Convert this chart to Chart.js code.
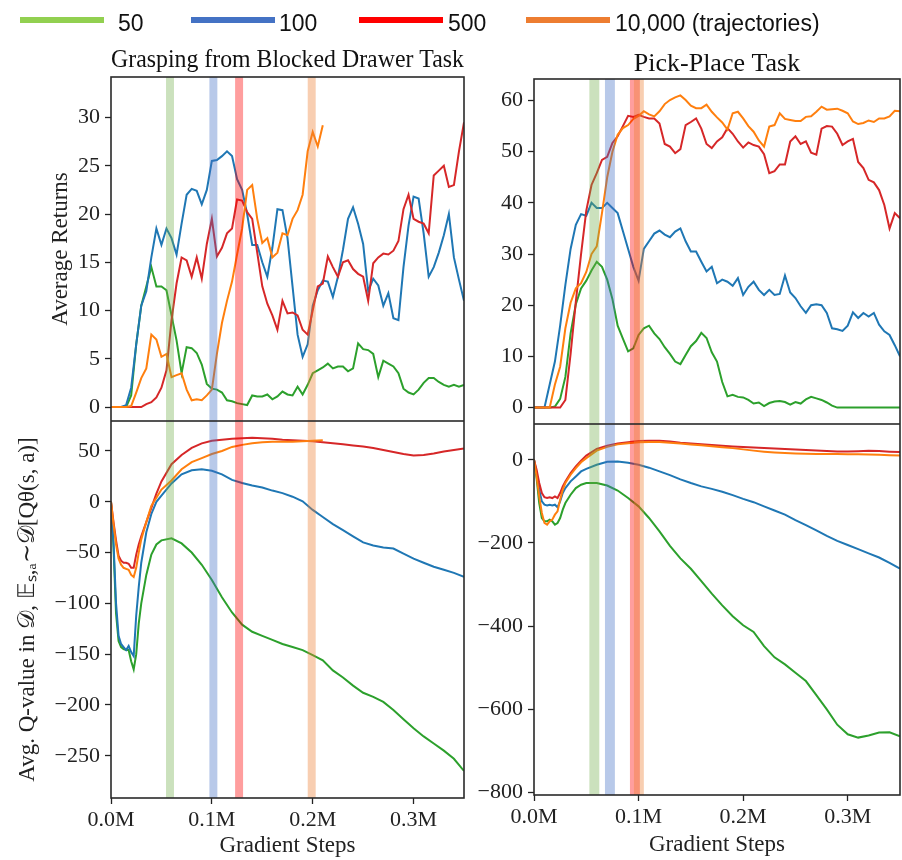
<!DOCTYPE html>
<html>
<head>
<meta charset="utf-8">
<script src="https://cdn.jsdelivr.net/npm/chart.js@4.4.1/dist/chart.umd.min.js"></script>
<style>
  body { margin: 0; background: #fff; }
  #page { position: relative; width: 902px; height: 860px; overflow: hidden; background: #fff; }
  #page canvas { position: absolute; }
  .keyLine { position: absolute; top: 17px; width: 84px; height: 6px; }
  .keyText { position: absolute; top: 12px; font: 23px/23px "Liberation Sans", Arial, sans-serif; color: #111; white-space: nowrap; }
</style>
</head>
<body>
<div id="page">
  <canvas id="drawerReturns" width="466" height="401" style="left:0;top:20px"></canvas>
  <canvas id="drawerQ" width="466" height="439" style="left:0;top:421px"></canvas>
  <canvas id="pickReturns" width="436" height="404" style="left:466px;top:20px"></canvas>
  <canvas id="pickQ" width="436" height="436" style="left:466px;top:424px"></canvas>
  <div id="legend"></div>
</div>
<script>
// series: 50, 100, 500, 10,000 trajectories
const seriesLabels = ['50', '100', '500', '10,000 (trajectories)'];
const lineColors = ['#2ca02c', '#1f77b4', '#d62728', '#ff7f0e'];
const legendColors = ['#92d050', '#4472c4', '#ff0000', '#ed7d31'];
const bandColors = ['rgba(112,173,71,0.36)', 'rgba(68,114,196,0.38)', 'rgba(255,0,0,0.38)', 'rgba(237,125,49,0.38)'];

// gradient steps, in thousands
const returnSteps = [0, 5, 10, 15, 20, 25, 30, 35, 40, 45, 50, 55, 60, 65, 70, 75, 80, 85, 90, 95,
  100, 105, 110, 115, 120, 125, 130, 135, 140, 145, 150, 155, 160, 165, 170, 175, 180, 185, 190, 195,
  200, 205, 210, 215, 220, 225, 230, 235, 240, 245, 250, 255, 260, 265, 270, 275, 280, 285, 290, 295,
  300, 305, 310, 315, 320, 325, 330, 335, 340, 345, 350];
const qSteps = [0, 2.5, 5, 7.5, 10, 12.5, 15, 17.5, 20, 22.5, 25, 27.5, 30, 35, 40, 45, 50,
  60, 70, 80, 90, 100, 110, 120, 130, 140, 150, 160, 170, 180, 190, 200, 210, 220, 230, 240,
  250, 260, 270, 280, 290, 300, 310, 320, 330, 340, 350];
const xTicks = [0, 100, 200, 300];

// Grasping from Blocked Drawer Task - average returns
const drawerRet50 = [0, 0, 0, 0, 1.2, 6.5, 10.5, 12.5, 14.5, 12.5, 12.5, 12.1, 9.5, 6.9, 3.5, 6.2, 6.1, 5.6, 4.4, 2.4,
  1.9, 1.8, 1.5, 0.7, 0.6, 0.4, 0.3, 0.2, 1.2, 1.1, 1.1, 1.3, 0.8, 1.1, 1.6, 1.3, 1.2, 2.1, 1.3, 2.3,
  3.5, 3.8, 4.1, 4.5, 4, 4.2, 4.2, 3.7, 4, 6.6, 6, 5.9, 5.5, 3.1, 4.8, 4.5, 4.2, 3.5, 1.9, 1.5,
  1.3, 1.8, 2.5, 3, 3, 2.6, 2.3, 2.1, 2.3, 2.1, 2.3];
const drawerRet100 = [0, 0, 0, 0.2, 2, 6.5, 10.5, 12, 15.5, 18.5, 16.8, 18.5, 17.5, 15.8, 19, 22, 22.6, 22.4, 21, 22.5,
  25.5, 25.6, 26, 26.5, 26, 23.6, 22.5, 20, 16.8, 16.8, 15, 13.5, 16.5, 20.5, 20.4, 17.5, 12.5, 7.5, 5.2, 6.5,
  10.5, 12.1, 13.1, 13, 11.4, 13.5, 16.3, 19.5, 20.7, 19, 16.9, 12, 13.3, 12.6, 10.5, 11.8, 9.2, 9, 14.5, 18.8,
  21.8, 21.6, 18, 13.5, 14.5, 16, 17.8, 20, 15.5, 13.2, 11];
const drawerRet500 = [0, 0, 0, 0, 0, 0, 0, 0.3, 0.5, 1, 2, 3.8, 9, 12.8, 15.5, 15.2, 13.5, 15.5, 13.3, 16.9,
  19.5, 15.6, 16.5, 18, 18.5, 21.5, 21.4, 20.2, 19.5, 16, 12.5, 10.7, 9.5, 8, 11, 9.7, 9.8, 9.5, 8, 7.5,
  10, 12.5, 12.8, 15.6, 14.5, 13.5, 15, 15.2, 14.3, 13.8, 13.5, 11, 14.9, 15.5, 15.9, 15.8, 16.2, 17.2, 20.5, 22,
  19.5, 19.2, 19, 18, 24, 24.5, 25, 22.8, 23, 26.5, 29.5];
const drawerRet10k = [0, 0, 0, 0, 0.1, 1.5, 3, 4, 7.5, 7, 5.2, 5.5, 3.1, 3.3, 3.5, 1.8, 0.7, 0.8, 0.7, 1.2,
  1.8, 5.5, 8.7, 11, 13, 15.8, 18.5, 22.5, 23, 19.5, 17, 17.5, 15.5, 16, 18, 17.8, 19.5, 20.4, 22, 26.5,
  28.5, 27, 29.2];

// Grasping from Blocked Drawer Task - average Q-value
const drawerQ50 = [0, -45, -110, -137, -143, -145, -146, -146, -157, -165, -150, -120, -100, -72, -52, -42, -38,
  -36, -41, -50, -62, -77, -94, -109, -121, -128, -132, -136, -140, -143, -146, -151, -156, -166, -173, -181,
  -188, -192, -197, -205, -214, -223, -231, -238, -245, -253, -265];
const drawerQ100 = [0, -40, -100, -132, -140, -143, -146, -142, -148, -152, -112, -84, -60, -30, -12, 0, 6,
  18, 27, 31, 32, 30.5, 27, 21.5, 18.5, 16, 14, 11, 8.5, 5, 0.5, -8, -15, -22, -28, -34,
  -40, -43, -45, -46, -51, -56, -60, -64, -67, -70, -74];
const drawerQ500 = [0, -20, -38, -53, -58, -60, -60, -61, -65, -65, -52, -42, -34, -20, -6, 8, 20,
  37, 46, 53, 57.5, 60, 61, 62, 62.5, 63, 62.5, 62, 61, 60.5, 60, 59.5, 58.5, 57.5, 56.5, 55.5,
  54.5, 53, 51, 49, 47, 45.5, 46, 47.5, 49.5, 51, 52.5];
const drawerQ10k = [0, -22, -42, -56, -62, -65, -66, -67, -72, -74, -65, -50, -37, -20, -4, 4, 12,
  21, 32, 39, 43, 47, 50, 54, 56, 57.5, 58.5, 59, 59, 59, 59.5, 60, 60.5];

// Pick-Place Task - average returns
const pickRet50 = [0, 0, 0, 0, 0.2, 1.7, 6, 14.5, 20.2, 23.3, 24.8, 26.8, 28.5, 27.5, 25, 21.2, 16, 13.5, 11, 11.6,
  14.2, 15.5, 16, 14.5, 13.4, 11.8, 10.5, 9, 8.5, 10.3, 12, 13, 14.6, 13.6, 10.8, 9, 5, 2.2, 2.5, 2.1,
  2, 1.5, 0.8, 1, 0.3, 0.9, 1.2, 1.3, 1.1, 0.6, 1.1, 0.8, 1.6, 2.1, 1.8, 1.5, 1, 0.4, 0, 0,
  0, 0, 0, 0, 0, 0, 0, 0, 0, 0, 0];
const pickRet100 = [0, 0, 0, 4.5, 9, 16, 24, 31, 35.7, 37.8, 37.5, 40, 39, 39, 40, 39, 38, 34.5, 31, 27.5,
  24.8, 31, 32.5, 34, 34.6, 33.8, 33.3, 34.4, 35, 32.5, 30.5, 30.5, 28.5, 26.6, 27.5, 24.3, 25, 24.6, 23.8, 25.3,
  22, 23.6, 24.6, 23, 22, 23, 22, 22.2, 25.8, 22.5, 21.4, 19.8, 18.5, 20, 20.2, 20, 18.5, 15.5, 15.3, 15,
  16, 18.6, 17.5, 18.5, 17.8, 18.5, 16.2, 14.9, 14.2, 12.2, 10];
const pickRet500 = [0, 0, 0, 0, 0, 0, 1.5, 10.5, 20.7, 30, 38.5, 43.5, 45.8, 48.4, 49, 51.7, 53, 55, 57, 56.8,
  57.2, 56.8, 56.5, 56.5, 55.5, 51.5, 51, 49.7, 50.5, 55.2, 55.8, 56.5, 54.5, 51.5, 50.7, 52, 52.8, 54.6, 53.5, 52,
  50.8, 51.8, 51.3, 51, 49.5, 45.8, 46.2, 47.5, 47.5, 52, 53, 51.5, 52, 49.8, 49.4, 54.5, 55, 54.9, 53.5, 51.3,
  52, 52.5, 48, 46.8, 44.5, 44, 42.5, 39.6, 35, 38, 37];
const pickRet10k = [0, 0, 0, 0, 4.5, 8, 15.5, 20.5, 23.3, 24.3, 26.5, 30, 31.5, 38, 45, 50, 53.3, 54.6, 55.2, 56.4,
  57, 57.9, 57.3, 56.9, 57.9, 59.3, 60.1, 60.6, 61, 60.1, 59, 58.5, 58.5, 59.2, 57.8, 56.7, 55.7, 54.3, 57.5, 57.8,
  56.5, 55, 53.9, 52.2, 51, 54.9, 55.2, 57.5, 56.4, 56.2, 56, 56, 56.8, 56.9, 57.8, 58.8, 58.2, 58.3, 58.4, 58,
  57.5, 55.9, 55.4, 55.6, 56.1, 55.8, 56.5, 56.5, 56.9, 58, 57.9];

// Pick-Place Task - average Q-value
const pickQ50 = [0, -45, -104, -140, -148, -148, -144, -148, -156, -152, -140, -120, -104, -84, -68, -60, -56,
  -56, -62, -74, -92, -112, -140, -172, -207, -237, -262, -292, -322, -350, -376, -398,
  -414, -448, -475, -492, -512, -532, -566, -600, -637, -660, -668, -663, -656, -655, -665];
const pickQ100 = [0, -32, -72, -100, -108, -110, -108, -110, -108, -114, -100, -80, -68, -52, -40, -28, -22,
  -12, -5, -4, -7, -12, -19, -28, -37, -47, -56, -64, -70, -77, -85, -94,
  -102, -112, -122, -132, -145, -157, -170, -183, -195, -205, -215, -225, -235, -248, -262];
const pickQ500 = [0, -24, -56, -80, -90, -92, -90, -92, -88, -92, -80, -64, -52, -32, -16, -2, 10,
  26, 34, 39, 42, 45, 46, 45.5, 44, 41, 39, 37.5, 35.5, 34, 32, 30.5,
  29.5, 28.5, 27, 26, 24.5, 23.5, 22, 21, 20, 20, 20.5, 21.5, 21, 19.5, 18.5];
const pickQ10k = [0, -40, -88, -128, -152, -156, -148, -144, -132, -124, -96, -72, -56, -36, -20, -6, 4,
  22, 31, 37, 40, 42, 43, 42.5, 41, 39, 37, 35, 32.5, 30, 28, 25,
  22, 19.5, 17.5, 16, 15, 14.5, 14, 13.8, 13.6, 13.5, 13, 12.5, 12, 11, 10.5];

// early-stopping markers (thousand steps), order: 50, 100, 500, 10k
const drawerBands = [58.5, 101.5, 127, 199];
const pickBands = [57.7, 72.6, 96.5, 100.3];

const drawerRetTicks = [0, 5, 10, 15, 20, 25, 30];
const drawerQTicks = [-250, -200, -150, -100, -50, 0, 50];
const pickRetTicks = [0, 10, 20, 30, 40, 50, 60];
const pickQTicks = [-800, -600, -400, -200, 0];

const serif = 'Liberation Serif, Times New Roman, serif';

// shaded vertical bands, drawn over the lines like the original
const bandPlugin = {
  id: 'bands',
  afterDatasetsDraw(chart, args, opts) {
    const {ctx, chartArea, scales: {x}} = chart;
    ctx.save();
    opts.centers.forEach((c, i) => {
      const l = x.getPixelForValue(c - opts.width / 2);
      const r = x.getPixelForValue(c + opts.width / 2);
      ctx.fillStyle = bandColors[i];
      ctx.fillRect(l, chartArea.top, r - l, chartArea.bottom - chartArea.top);
    });
    ctx.restore();
  }
};

// box around the plot area
const framePlugin = {
  id: 'frame',
  afterDraw(chart) {
    const {ctx, chartArea: a} = chart;
    ctx.save();
    ctx.strokeStyle = '#2a2a2a';
    ctx.lineWidth = 1.6;
    ctx.strokeRect(a.left, a.top, a.right - a.left, a.bottom - a.top);
    ctx.restore();
  }
};

function makePanel(id, cfg) {
  const datasets = cfg.series.map((vals, i) => ({
    label: seriesLabels[i],
    data: vals.map((v, j) => ({x: cfg.steps[j], y: v})),
    borderColor: lineColors[i],
    borderWidth: 2,
    pointRadius: 0,
    tension: 0,
    order: 4 - i
  }));

  return new Chart(document.getElementById(id), {
    type: 'line',
    data: {datasets},
    options: {
      responsive: false,
      animation: false,
      layout: {padding: cfg.padding, autoPadding: false},
      plugins: {
        legend: {display: false},
        tooltip: {enabled: false},
        title: {
          display: !!cfg.title,
          text: cfg.title || '',
          fullSize: false,
          color: '#111',
          font: {family: serif, size: 26, weight: 'normal', lineHeight: '30px'},
          padding: {top: cfg.titlePad ? cfg.titlePad[0] : 0, bottom: cfg.titlePad ? cfg.titlePad[1] : 0}
        },
        bands: {centers: cfg.bands, width: cfg.bandWidth}
      },
      scales: {
        x: {
          type: 'linear',
          min: 0,
          max: 350,
          display: cfg.showX,
          afterBuildTicks: s => { s.ticks = xTicks.map(v => ({value: v})); },
          afterFit: s => { if (cfg.xHeight) s.height = cfg.xHeight; s.paddingLeft = 0; s.paddingRight = 0; },
          ticks: {
            autoSkip: false,
            maxRotation: 0,
            padding: 3,
            color: '#222',
            font: {family: serif, size: 22},
            callback: v => (v / 1000).toFixed(1) + 'M'
          },
          grid: {drawOnChartArea: false, tickLength: 6, tickColor: '#222', tickWidth: 1.3},
          border: {display: false},
          title: {
            display: true,
            text: 'Gradient Steps',
            color: '#222',
            font: {family: serif, size: 23},
            padding: {top: 0, bottom: cfg.xTitlePad || 0}
          }
        },
        y: {
          type: 'linear',
          min: cfg.yMin,
          max: cfg.yMax,
          afterBuildTicks: s => { s.ticks = cfg.yTicks.map(v => ({value: v})); },
          afterFit: s => { s.width = cfg.yWidth; s.paddingTop = 0; s.paddingBottom = 0; },
          ticks: {
            padding: 5,
            color: '#222',
            font: {family: serif, size: 22},
            callback: v => String(v).replace('-', '\u2212')
          },
          grid: {drawOnChartArea: false, tickLength: 6, tickColor: '#222', tickWidth: 1.3},
          border: {display: false},
          title: {
            display: !!cfg.yTitle,
            text: cfg.yTitle || '',
            color: '#222',
            font: {family: serif, size: 23},
            padding: {top: cfg.yTitlePad || 0, bottom: 0}
          }
        }
      }
    },
    plugins: [bandPlugin, framePlugin]
  });
}

makePanel('drawerReturns', {
  steps: returnSteps,
  series: [drawerRet50, drawerRet100, drawerRet500, drawerRet10k],
  title: 'Grasping from Blocked Drawer Task',
  titlePad: [25, 2],
  padding: {top: 0, right: 2, bottom: 0, left: 0},
  showX: false,
  yMin: -1.45, yMax: 34.2, yTicks: drawerRetTicks,
  yWidth: 111, yTitle: 'Average Returns', yTitlePad: 47,
  bands: drawerBands, bandWidth: 7.9
});

makePanel('drawerQ', {
  steps: qSteps,
  series: [drawerQ50, drawerQ100, drawerQ500, drawerQ10k],
  padding: {top: 0, right: 2, bottom: 0, left: 0},
  showX: true, xHeight: 62, xTitlePad: 0,
  yMin: -291.6, yMax: 79.5, yTicks: drawerQTicks,
  yWidth: 111, yTitle: 'Avg. Q-value in \u{1D49F}, \u{1D53C}\u209B,\u2090\u223C\u{1D49F}[Q\u03B8(s, a)]', yTitlePad: 14,
  bands: drawerBands, bandWidth: 7.9
});

makePanel('pickReturns', {
  steps: returnSteps,
  series: [pickRet50, pickRet100, pickRet500, pickRet10k],
  title: 'Pick-Place Task',
  titlePad: [29, 0],
  padding: {top: 0, right: 2, bottom: 0, left: 0},
  showX: false,
  yMin: -3.2, yMax: 64.2, yTicks: pickRetTicks,
  yWidth: 68,
  bands: pickBands, bandWidth: 9.5
});

makePanel('pickQ', {
  steps: qSteps,
  series: [pickQ50, pickQ100, pickQ500, pickQ10k],
  padding: {top: 0, right: 2, bottom: 0, left: 0},
  showX: true, xHeight: 65, xTitlePad: 1,
  yMin: -806, yMax: 86, yTicks: pickQTicks,
  yWidth: 68,
  bands: pickBands, bandWidth: 9.5
});

// legend row across the top
const legendLineLeft = [20, 191, 359, 526];
const legendTextLeft = [118, 279, 448, 615];
const legend = document.getElementById('legend');
seriesLabels.forEach((label, i) => {
  const line = document.createElement('div');
  line.className = 'keyLine';
  line.style.left = legendLineLeft[i] + 'px';
  line.style.background = legendColors[i];
  legend.appendChild(line);
  const text = document.createElement('span');
  text.className = 'keyText';
  text.style.left = legendTextLeft[i] + 'px';
  text.textContent = label;
  legend.appendChild(text);
});
</script>
</body>
</html>
